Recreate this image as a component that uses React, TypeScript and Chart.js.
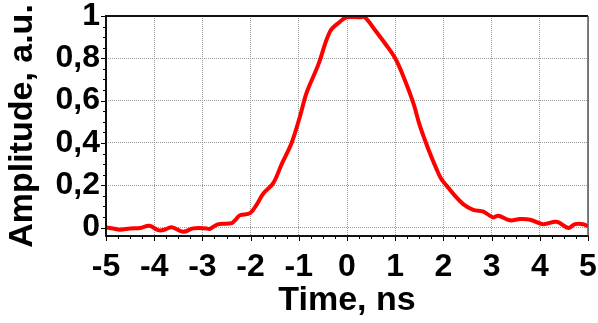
import React, { useEffect, useRef } from "react";
import { Chart, registerables } from "chart.js";

Chart.register(...registerables);

const timeNs = [
  -5.0, -4.85, -4.71, -4.5, -4.29, -4.1, -3.92, -3.81, -3.64, -3.4, -3.19, -2.91, -2.85, -2.67, -2.39, -2.3,
  -2.22, -2.01, -1.87, -1.74, -1.53, -1.355, -1.15, -0.975, -0.84, -0.595, -0.353, -0.145, -0.006, 0.27,
  0.37, 0.58, 0.79, 1.0, 1.17, 1.375, 1.515, 1.69, 1.86, 1.96, 2.07, 2.21, 2.41, 2.62, 2.83, 3.03, 3.14,
  3.38, 3.59, 3.8, 4.07, 4.35, 4.59, 4.73, 4.9, 5.0,
];
const amplitude = [
  0.0, -0.005, -0.01, -0.004, -0.002, 0.008, -0.012, -0.012, 0.001, -0.02, -0.004, -0.004, -0.007, 0.016, 0.021, 0.04,
  0.058, 0.068, 0.11, 0.16, 0.21, 0.3, 0.4, 0.526, 0.636, 0.77, 0.926, 0.973, 0.994, 0.994,
  0.994, 0.934, 0.87, 0.8, 0.714, 0.589, 0.479, 0.369, 0.275, 0.228, 0.197, 0.158, 0.111, 0.084, 0.075, 0.048, 0.056,
  0.034, 0.04, 0.037, 0.016, 0.027, -0.002, 0.016, 0.016, 0.006,
];
const xTicks = [-5, -4, -3, -2, -1, 0, 1, 2, 3, 4, 5];
const yTicks = [0, 0.2, 0.4, 0.6, 0.8, 1];

const FONT = "'Liberation Sans', Arial, sans-serif";

const framePlugin = {
  id: "frame",
  afterDatasetsDraw(chart: any) {
    const { ctx, chartArea } = chart;
    const { left, right, top, bottom } = chartArea;
    const xs = chart.scales.x;
    const ys = chart.scales.y;
    ctx.save();
    ctx.strokeStyle = "#000";
    ctx.lineWidth = 1;
    ctx.beginPath();
    for (let i = 0; i <= 40; i++) {
      const v = -5 + i * 0.25;
      const px = Math.round(xs.getPixelForValue(v)) + 0.5;
      const len = i % 4 === 0 ? 5 : 3;
      ctx.moveTo(px, bottom);
      ctx.lineTo(px, bottom + len);
    }
    for (let i = 0; i <= 20; i++) {
      const v = i * 0.05;
      const py = Math.round(ys.getPixelForValue(v)) + 0.5;
      const len = i % 4 === 0 ? 5 : 3;
      ctx.moveTo(left, py);
      ctx.lineTo(left - len, py);
    }
    ctx.stroke();
    ctx.lineWidth = 2;
    ctx.strokeStyle = "#111";
    ctx.beginPath();
    ctx.moveTo(left, top);
    ctx.lineTo(right, top);
    ctx.moveTo(left, top - 1);
    ctx.lineTo(left, bottom + 1);
    ctx.moveTo(left - 1, bottom);
    ctx.lineTo(right + 1, bottom);
    ctx.stroke();
    ctx.strokeStyle = "#555";
    ctx.lineWidth = 1.5;
    ctx.beginPath();
    ctx.moveTo(right, top);
    ctx.lineTo(right, bottom);
    ctx.stroke();
    ctx.restore();
  },
};

export default function App() {
  const ref = useRef<HTMLCanvasElement>(null);
  useEffect(() => {
    if (!ref.current) return;
    const chart = new Chart(ref.current, {
      type: "line",
      data: {
        datasets: [
          {
            data: timeNs.map((t, i) => ({ x: t, y: amplitude[i] })),
            borderColor: "#ff0000",
            borderWidth: 4,
            pointRadius: 0,
            tension: 0.35,
            fill: false,
          },
        ],
      },
      options: {
        animation: false,
        responsive: false,
        events: [],
        layout: { padding: { top: 16, right: 10, left: 0, bottom: 0 } },
        plugins: { legend: { display: false }, tooltip: { enabled: false } },
        scales: {
          x: {
            type: "linear",
            min: -5,
            max: 5,
            afterBuildTicks: (s: any) => {
              s.ticks = xTicks.map((v) => ({ value: v }));
            },
            afterFit: (s: any) => {
              s.height = 87;
              s.paddingLeft = 0;
              s.paddingRight = 0;
            },
            grid: { color: "#9a9a9a", lineWidth: 1, drawTicks: false },
            border: { display: false, dash: [1, 1] },
            ticks: {
              padding: 12,
              color: "#000",
              font: { family: FONT, size: 32, weight: "bold" },
              maxRotation: 0,
              callback: (v: any) => String(v),
            },
            title: {
              display: true,
              text: "Time, ns",
              color: "#000",
              font: { family: FONT, size: 34, weight: "bold" },
              padding: { top: 0, bottom: 2 },
            },
          },
          y: {
            type: "linear",
            min: -0.04,
            max: 1,
            afterBuildTicks: (s: any) => {
              s.ticks = yTicks.map((v) => ({ value: v }));
            },
            afterFit: (s: any) => {
              s.width = 106;
              s.paddingTop = 0;
              s.paddingBottom = 0;
            },
            grid: { color: "#9a9a9a", lineWidth: 1, drawTicks: false },
            border: { display: false, dash: [1, 1] },
            ticks: {
              padding: 6,
              color: "#000",
              font: { family: FONT, size: 32, weight: "bold" },
              callback: (v: any) => String(Math.round(Number(v) * 10) / 10).replace(".", ","),
            },
            title: {
              display: true,
              text: "Amplitude, a.u.",
              color: "#000",
              font: { family: FONT, size: 34, weight: "bold" },
              padding: { top: 2, bottom: 0 },
            },
          },
        },
      },
      plugins: [framePlugin],
    });
    return () => chart.destroy();
  }, []);
  return (
    <div style={{ position: "absolute", left: 0, top: 0, width: 598, height: 323 }}>
      <canvas ref={ref} width={598} height={323} />
    </div>
  );
}
